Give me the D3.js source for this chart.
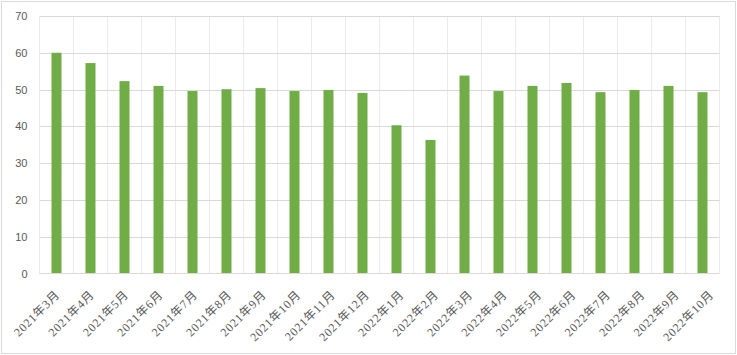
<!DOCTYPE html>
<html><head><meta charset="utf-8">
<script src="https://cdn.jsdelivr.net/npm/d3@7/dist/d3.min.js"></script>
<style>body{margin:0;background:#fff;}svg{display:block;}</style>
</head><body>
<svg id="c" width="737" height="355"></svg>
<script>
const categories = ["2021年3月","2021年4月","2021年5月","2021年6月","2021年7月","2021年8月","2021年9月","2021年10月","2021年11月","2021年12月","2022年1月","2022年2月","2022年3月","2022年4月","2022年5月","2022年6月","2022年7月","2022年8月","2022年9月","2022年10月"];
const values = [60.0,57.2,52.3,51.0,49.6,50.1,50.4,49.6,49.9,49.1,40.3,36.3,53.8,49.6,51.0,51.8,49.3,49.9,51.0,49.3];
const yTicks = [0,10,20,30,40,50,60,70];

const svg = d3.select("#c");
svg.append("rect").attr("x",1.5).attr("y",1.5).attr("width",734).attr("height",352)
  .attr("fill","#fff").attr("stroke","#d9d9d9").attr("stroke-width",1);

const L=39.5, R=719.5, T=16, B=273.5;
const xb = d3.scaleBand().domain(categories).range([L,R]);
const y = d3.scaleLinear().domain([0,70]).range([B,T]);

// vertical gridlines
const g = svg.append("g");
g.selectAll("line.v").data(categories.concat(["_end"])).enter().append("line")
  .attr("x1",(d,i)=>L+i*xb.step()).attr("x2",(d,i)=>L+i*xb.step())
  .attr("y1",T).attr("y2",B).attr("stroke","#ebebeb").attr("stroke-width",1);
// horizontal gridlines
g.selectAll("line.h").data(yTicks.slice(1)).enter().append("line")
  .attr("x1",L).attr("x2",R).attr("y1",d=>Math.round(y(d))+0.5).attr("y2",d=>Math.round(y(d))+0.5)
  .attr("stroke","#d9d9d9").attr("stroke-width",1);

// bars
svg.append("g").selectAll("rect").data(values).enter().append("rect")
  .attr("x",(d,i)=>xb(categories[i])+xb.bandwidth()/2-5)
  .attr("width",10)
  .attr("y",d=>y(d)).attr("height",d=>B-y(d))
  .attr("fill","#70ad47");

// x axis line
svg.append("line").attr("x1",L).attr("x2",R).attr("y1",B).attr("y2",B)
  .attr("stroke","#d9d9d9").attr("stroke-width",1);

// y axis labels
const ya = svg.append("g").attr("transform",`translate(${L},0)`)
  .call(d3.axisLeft(y).tickValues(yTicks).tickSize(0).tickPadding(12));
ya.select(".domain").remove();
ya.selectAll("text").attr("fill","#595959").attr("font-size","11px")
  .attr("font-family","'Liberation Sans', Arial, sans-serif");

// x labels
const n = categories.length;
const xa = svg.append("g").attr("transform",`translate(0,${B})`)
  .call(d3.axisBottom(xb).tickSize(0).tickPadding(0));
xa.select(".domain").remove();
xa.selectAll("text")
  .attr("font-size","12px")
  .attr("letter-spacing","0.7px")
  .attr("font-family","'Liberation Serif', 'Noto Sans CJK SC', serif")
  .attr("fill","#595959")
  .attr("text-anchor","end")
  .attr("dy","0")
  .attr("y",0)
  .attr("transform",(d,i)=>`translate(${4+8*i/(n-1)},22) rotate(-45)`);
</script>
</body></html>
